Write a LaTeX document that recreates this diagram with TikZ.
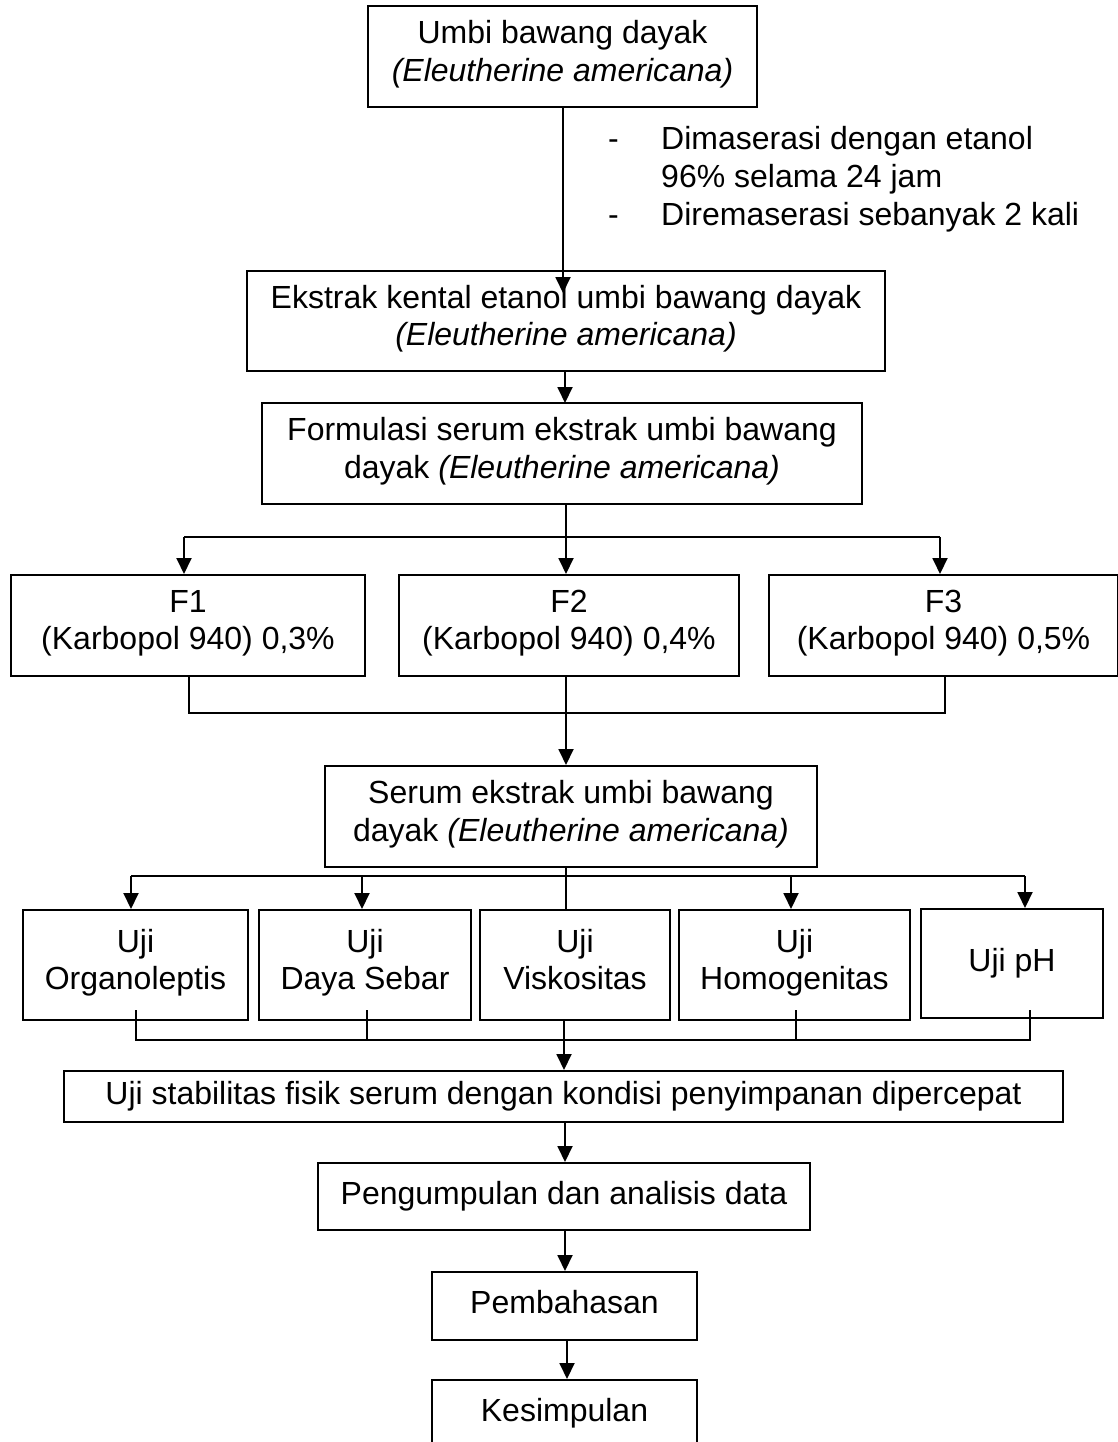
\documentclass[tikz,border=0pt]{standalone}
\usepackage{fontspec}
\setmainfont{Liberation Sans}
\usetikzlibrary{arrows.meta,calc}
\newcommand\diafont{\fontsize{32}{37.5}\selectfont}
\begin{document}
\begin{tikzpicture}[x=1pt,y=-1pt,
  box/.style={draw, line width=2pt, inner sep=0pt, align=center, font=\diafont,
    execute at begin node=\strut, execute at end node=\strut},
  ln/.style={line width=1.9pt},
  arr/.style={line width=1.9pt, -{Triangle[length=16pt,width=15pt]}}]
\useasboundingbox (0,0) rectangle (1117,1442);
\fill[white] (0,0) rectangle (1117,1442);

% nodes
\node[box, minimum width=389pt, minimum height=101pt] (umbi) at (562.5,56.5)
  {Umbi bawang dayak\\\textit{(Eleutherine americana)}};
\node[anchor=base west, inner sep=0pt, font=\diafont] (notes) at (608,150)
  {\begin{tabular}[t]{@{}p{53pt}@{}l@{}}-&Dimaserasi dengan etanol\\&96\% selama 24 jam\\-&Diremaserasi sebanyak 2 kali\end{tabular}};
\node[box, minimum width=638pt, minimum height=100pt] (ekstrak) at (566,321)
  {Ekstrak kental etanol umbi bawang dayak\\\textit{(Eleutherine americana)}};
\node[box, minimum width=600pt, minimum height=101pt] (formulasi) at (562,453.5)
  {Formulasi serum ekstrak umbi bawang\\dayak \textit{(Eleutherine americana)}};
\node[box, minimum width=354pt, minimum height=101pt] (f1) at (188,625.5)
  {F1\\(Karbopol 940) 0,3\%};
\node[box, minimum width=340pt, minimum height=101pt] (f2) at (569,625.5)
  {F2\\(Karbopol 940) 0,4\%};
\node[box, minimum width=349pt, minimum height=101pt] (f3) at (943.5,625.5)
  {F3\\(Karbopol 940) 0,5\%};
\node[box, minimum width=492pt, minimum height=101pt] (serum) at (571,816.5)
  {Serum ekstrak umbi bawang\\dayak \textit{(Eleutherine americana)}};
\node[box, minimum width=225pt, minimum height=110pt] (organo) at (135.5,965)
  {Uji\\Organoleptis};
\node[box, minimum width=212pt, minimum height=110pt] (daya) at (365,965)
  {Uji\\Daya Sebar};
\node[box, minimum width=190pt, minimum height=110pt] (visk) at (575,965)
  {Uji\\Viskositas};
\node[box, minimum width=231pt, minimum height=110pt] (homog) at (794.5,965)
  {Uji\\Homogenitas};
\node[box, minimum width=182pt, minimum height=109pt] (ph) at (1012,963.5)
  {Uji pH};
\node[box, minimum width=999pt, minimum height=51pt] (stabil) at (563.5,1096.5)
  {Uji stabilitas fisik serum dengan kondisi penyimpanan dipercepat};
\node[box, minimum width=492pt, minimum height=67pt] (peng) at (564,1196.5)
  {Pengumpulan dan analisis data};
\node[box, minimum width=265pt, minimum height=68pt] (pemb) at (564.5,1306)
  {Pembahasan};
\node[box, minimum width=265pt, minimum height=68pt] (kesim) at (564.5,1414)
  {Kesimpulan};

% connectors
\coordinate (e1) at (563,293);
\draw[arr] (umbi.south -| e1) -- (e1);
\coordinate (e2) at (565,403);
\draw[arr] (ekstrak.south -| e2) -- (e2);

\coordinate (fj) at (566,537);
\coordinate (fl) at (184,537);
\coordinate (fr) at (940,537);
\draw[ln] (formulasi.south -| fj) -- (fj);
\draw[ln] (fl) -- (fr);
\draw[arr] (fl) -- (fl |- f1.north);
\draw[arr] (fj) -- (fj |- f2.north);
\draw[arr] (fr) -- (fr |- f3.north);

\coordinate (gl) at (189,713);
\coordinate (gr) at (945,713);
\coordinate (gj) at (566,713);
\draw[ln] (gl |- f1.south) -- (gl) -- (gr) -- (gr |- f3.south);
\draw[ln] (gj |- f2.south) -- (gj);
\draw[arr] (gj) -- (gj |- serum.north);

\coordinate (sj) at (566,876);
\coordinate (sl) at (131,876);
\coordinate (sr) at (1025,876);
\coordinate (s2) at (362,876);
\coordinate (s4) at (791,876);
\draw[ln] (sj |- serum.south) -- (sj);
\draw[ln] (sl) -- (sr);
\draw[arr] (sl) -- (sl |- organo.north);
\draw[arr] (s2) -- (s2 |- daya.north);
\draw[ln] (sj) -- (sj |- visk.north);
\draw[arr] (s4) -- (s4 |- homog.north);
\draw[arr] (sr) -- (sr |- ph.north);

\coordinate (tl) at (136,1040);
\coordinate (tr) at (1030,1040);
\coordinate (tj) at (564,1040);
\coordinate (t2) at (367,1040);
\coordinate (t4) at (796,1040);
\draw[ln] ($(tl |- organo.south)+(0,-11)$) -- (tl) -- (tr) -- ($(tr |- ph.south)+(0,-9)$);
\draw[ln] ($(t2 |- daya.south)+(0,-11)$) -- (t2);
\draw[ln] ($(t4 |- homog.south)+(0,-11)$) -- (t4);
\draw[ln] (tj |- visk.south) -- (tj);
\draw[arr] (tj) -- (tj |- stabil.north);

\coordinate (p1) at (565,0);
\coordinate (p2) at (567,0);
\draw[arr] (stabil.south -| p1) -- (peng.north -| p1);
\draw[arr] (peng.south -| p1) -- (pemb.north -| p1);
\draw[arr] (pemb.south -| p2) -- (kesim.north -| p2);
\end{tikzpicture}
\end{document}
